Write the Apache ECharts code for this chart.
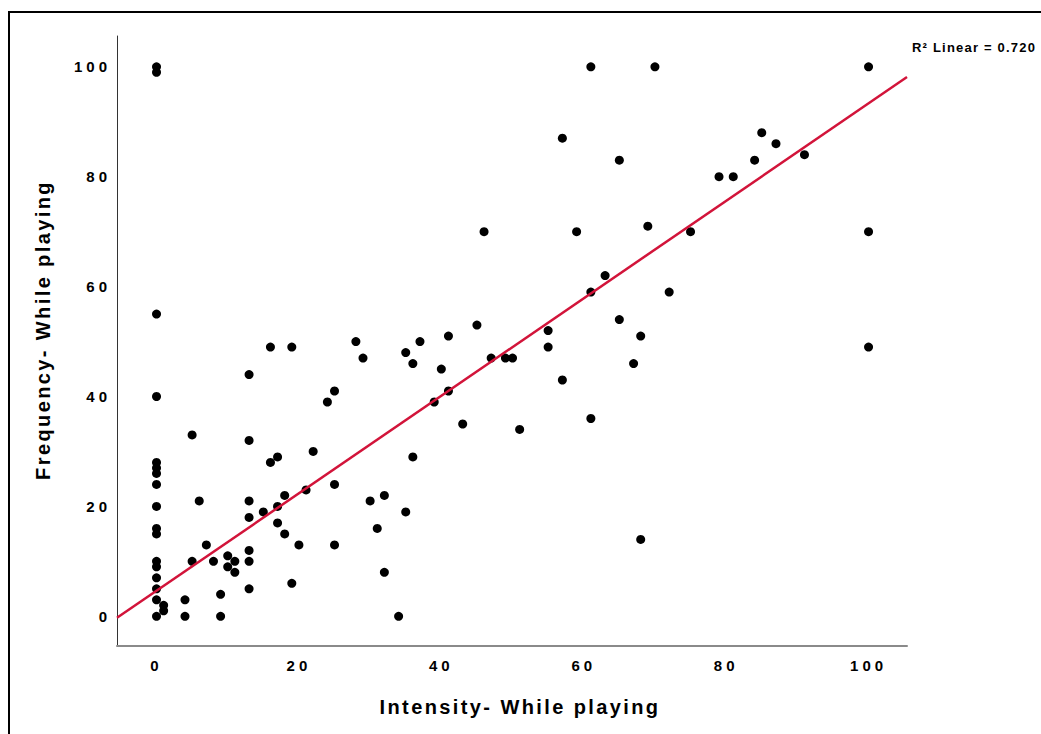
<!DOCTYPE html>
<html>
<head>
<meta charset="utf-8">
<script src="https://cdn.jsdelivr.net/npm/echarts@6/dist/echarts.min.js"></script>
<style>
  html, body { margin: 0; padding: 0; background: #fff; }
  #chart { width: 1041px; height: 734px; }
  #chart text[style*="15px"] { letter-spacing: 4px; }
  #chart text[style*="20px"] { letter-spacing: 2.4px; }
  #chart text[style*="13px"] { letter-spacing: 1.2px; }
</style>
</head>
<body>
<div id="chart"></div>
<script>
// Intensity (x) and Frequency (y) while playing
const intensity = [0,0,0,0,0,0,0,0,0,0,0,0,0,0,0,0,0,
  1,1,
  4,4,5,5,6,7,8,9,9,10,10,11,11,
  13,13,13,13,13,13,13,
  15,16,16,17,17,17,18,18,19,19,20,21,22,
  24,25,25,25,28,29,30,31,32,32,34,35,35,36,36,37,
  39,40,41,41,43,45,46,47,49,50,51,
  55,55,57,57,59,61,61,61,63,65,65,67,68,68,
  69,70,72,75,79,81,84,85,87,91,100,100,100];
const frequency = [100,99,55,40,28,27,26,24,20,16,15,10,9,7,5,3,0,
  2,1,
  3,0,33,10,21,13,10,4,0,11,9,10,8,
  44,32,21,18,12,10,5,
  19,49,28,29,20,17,22,15,49,6,13,23,30,
  39,41,24,13,50,47,21,16,22,8,0,48,19,46,29,50,
  39,45,51,41,35,53,70,47,47,47,34,
  52,49,87,43,70,100,59,36,62,83,54,46,51,14,
  71,100,59,70,80,80,83,88,86,84,100,70,49];
const tickValues = [0, 20, 40, 60, 80, 100];
const xRange = [-5.55, 105.4];
const yRange = [-5.4, 105.6];
const fitIntercept = 4.65;
const fitSlope = 0.887;
const r2Label = 'R\u00B2 Linear = 0.720';
const xTitle = 'Intensity- While playing';
const yTitle = 'Frequency- While playing';

const points = intensity.map((x, i) => [x, frequency[i]]);
const fitLine = xRange.map(x => [x, fitIntercept + fitSlope * x]);

const chart = echarts.init(document.getElementById('chart'), null, { renderer: 'svg' });
const FONT = '"Liberation Sans", Arial, sans-serif';
chart.setOption({
  animation: false,
  backgroundColor: '#fff',
  grid: { left: 117, right: 134, top: 36, bottom: 88 },
  xAxis: {
    type: 'value', min: xRange[0], max: xRange[1],
    name: xTitle, nameLocation: 'middle', nameGap: 51,
    nameTextStyle: { fontFamily: FONT, fontWeight: 'bold', fontSize: 20, color: '#000', padding: [0, 0, 0, 16] },
    axisLine: { show: true, onZero: false, lineStyle: { color: '#8a8a8a', width: 2 } },
    axisTick: { show: false },
    splitLine: { show: false },
    axisLabel: { customValues: tickValues, margin: 12, fontFamily: FONT, fontWeight: 'bold', fontSize: 15, color: '#000' }
  },
  yAxis: {
    type: 'value', min: yRange[0], max: yRange[1],
    name: yTitle, nameLocation: 'middle', nameGap: 64, nameRotate: 90,
    nameTextStyle: { fontFamily: FONT, fontWeight: 'bold', fontSize: 20, color: '#000', padding: [0, 0, 0, 22] },
    axisLine: { show: true, onZero: false, lineStyle: { color: '#333', width: 1 } },
    axisTick: { show: false },
    splitLine: { show: false },
    axisLabel: { customValues: tickValues, margin: 6, padding: [12, 0, 0, 0], fontFamily: FONT, fontWeight: 'bold', fontSize: 15, color: '#000' }
  },
  series: [
    {
      type: 'scatter', data: points, symbol: 'circle', symbolSize: 9,
      itemStyle: { color: '#000', opacity: 1 }, z: 3
    },
    {
      type: 'line', data: fitLine, symbol: 'none', silent: true,
      lineStyle: { color: '#D2143A', width: 2.5 }, z: 4
    }
  ],
  graphic: [
    {
      type: 'rect', shape: { x: 9, y: 12, width: 1100, height: 800 },
      style: { fill: 'none', stroke: '#000', lineWidth: 2 }, silent: true
    },
    {
      type: 'text', left: 912, top: 41,
      style: { text: r2Label, font: 'bold 13px ' + FONT, fill: '#000' }
    }
  ]
});
</script>
</body>
</html>
